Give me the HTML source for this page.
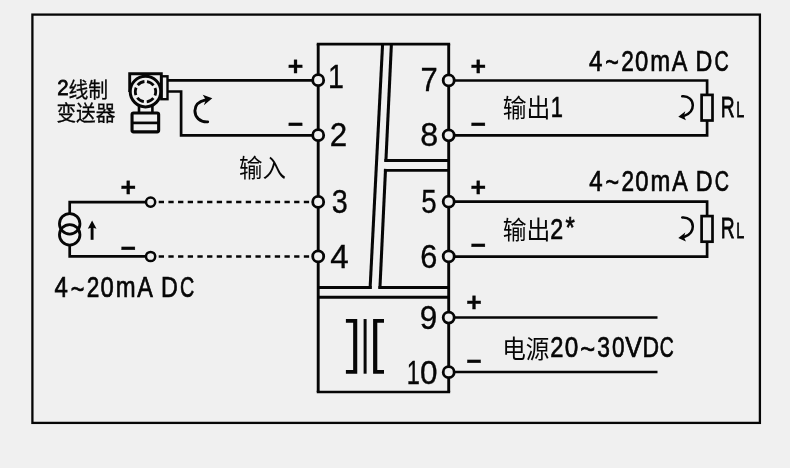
<!DOCTYPE html>
<html lang="zh">
<head>
<meta charset="utf-8">
<title>2线制变送器 接线图</title>
<style>
html,body{margin:0;padding:0;background:#f0f0f0;}
body{width:790px;height:468px;overflow:hidden;font-family:"Liberation Sans",sans-serif;}
svg{display:block;will-change:transform;filter:blur(0.35px);font-family:"Liberation Sans",sans-serif;}
svg line,svg polyline,svg rect,svg circle,svg path{stroke:#060606;fill:none;}
svg circle.h{fill:#f0f0f0;}
svg path.f{stroke:none;fill:#060606;}
svg text{fill:#060606;stroke:#060606;stroke-width:0.7px;}
svg text.b{font-weight:bold;stroke-width:0.3px;}
svg text.m{stroke-width:0.8px;}
svg text.c{font-family:"Liberation Sans","Noto Sans CJK SC",sans-serif;}
</style>
</head>
<body>
<svg width="790" height="468" viewBox="0 0 790 468">
<rect x="0" y="0" width="790" height="468" style="fill:#f0f0f0;stroke:none"/>
<rect x="32.4" y="14.6" width="727.5" height="408.3" stroke-width="2.3"/>
<g id="module">
<line x1="316.75" y1="44.1" x2="450.15" y2="44.1" stroke-width="2.7" />
<line x1="316.75" y1="392.0" x2="450.15" y2="392.0" stroke-width="2.7" />
<line x1="318.2" y1="44.1" x2="318.2" y2="392.0" stroke-width="2.9" />
<line x1="448.7" y1="44.1" x2="448.7" y2="392.0" stroke-width="2.9" />
<line x1="318.2" y1="287.45" x2="371.66036" y2="287.45" stroke-width="2.9" />
<line x1="378.43285" y1="287.45" x2="448.7" y2="287.45" stroke-width="2.9" />
<line x1="318.2" y1="297.2" x2="448.7" y2="297.2" stroke-width="2.9" />
<line x1="384.40185" y1="160.45" x2="448.7" y2="160.45" stroke-width="2.9" />
<line x1="383.93655" y1="170.35" x2="448.7" y2="170.35" stroke-width="2.9" />
<line x1="382.59" y1="44.1" x2="370.06" y2="288.9" stroke-width="3.05" />
<line x1="391.4" y1="44.1" x2="385.86" y2="161.9" stroke-width="3.05" />
<line x1="385.53" y1="168.9" x2="379.89" y2="288.9" stroke-width="3.05" />
<path class="f" d="M345.9 319.05 H357.25 V373.7 H345.9 V370.0 H353.15 V322.75 H345.9 Z"/>
<path class="f" d="M384.0 319.05 H373.1 V373.7 H384.0 V370.0 H377.3 V322.75 H384.0 Z"/>
<line x1="365.1" y1="319.05" x2="365.1" y2="373.7" stroke-width="3.0" />
</g>
<g id="wires">
<line x1="167.6" y1="80.4" x2="318.2" y2="80.4" stroke-width="2.7" />
<polyline points="167.6,91.5 181.1,91.5 181.1,135.4 318.2,135.4" stroke-width="2.7" />
<polyline points="448.7,80.5 707.1,80.5 707.1,94.9" stroke-width="2.7" />
<polyline points="448.7,135.4 707.1,135.4 707.1,120.3" stroke-width="2.7" />
<rect x="701.6" y="94.9" width="10.9" height="25.6" stroke-width="2.7"/>
<polyline points="448.7,201.7 707.1,201.7 707.1,216.10000000000002" stroke-width="2.7" />
<polyline points="448.7,256.6 707.1,256.6 707.1,241.5" stroke-width="2.7" />
<rect x="701.6" y="216.1" width="10.9" height="25.6" stroke-width="2.7"/>
<line x1="448.7" y1="317.5" x2="657.5" y2="317.5" stroke-width="2.7" />
<line x1="448.7" y1="372.0" x2="657.5" y2="372.0" stroke-width="2.7" />
<polyline points="150.6,202.2 69.7,202.2 69.7,213.0" stroke-width="2.7" />
<polyline points="150.6,256.3 69.7,256.3 69.7,245.6" stroke-width="2.7" />
<circle class="o" cx="69.7" cy="223.8" r="10.25" stroke-width="2.8" />
<circle class="o" cx="69.7" cy="234.8" r="10.25" stroke-width="2.8" />
<line x1="158.7" y1="202.0" x2="313" y2="202.0" stroke-width="2.7" stroke-dasharray="5.3 4.375"/>
<line x1="158.7" y1="256.5" x2="313" y2="256.5" stroke-width="2.7" stroke-dasharray="5.3 4.375"/>
</g>
<g id="terminals">
<circle class="h" cx="318.2" cy="80.2" r="5.5" stroke-width="2.8" />
<circle class="h" cx="318.2" cy="135.2" r="5.5" stroke-width="2.8" />
<circle class="h" cx="318.2" cy="201.9" r="5.5" stroke-width="2.8" />
<circle class="h" cx="318.2" cy="256.4" r="5.5" stroke-width="2.8" />
<circle class="h" cx="448.7" cy="80.45" r="5.5" stroke-width="2.8" />
<circle class="h" cx="448.7" cy="135.3" r="5.5" stroke-width="2.8" />
<circle class="h" cx="448.7" cy="201.7" r="5.5" stroke-width="2.8" />
<circle class="h" cx="448.7" cy="256.4" r="5.5" stroke-width="2.8" />
<circle class="h" cx="448.7" cy="317.6" r="5.5" stroke-width="2.8" />
<circle class="h" cx="448.7" cy="372.2" r="5.5" stroke-width="2.8" />
<circle class="h" cx="150.6" cy="202.1" r="4.6" stroke-width="2.5" />
<circle class="h" cx="150.6" cy="256.5" r="4.6" stroke-width="2.5" />
</g>
<g id="arrows">
<line x1="92.1" y1="239.8" x2="92.1" y2="226.5" stroke-width="2.9" />
<path class="f" d="M92.1 220.5 L96.5 228.7 L92.1 227.5 L87.8 228.7 Z"/>
<path d="M207.7 121.9 C199.8 122.3 194.9 117.0 194.9 110.8 C194.9 105.2 198.8 101.3 205.6 99.8" stroke-width="2.9" stroke-linecap="round"/>
<path class="f" d="M212.3 98.3 L202.7 94.8 L205.8 99.7 L203.9 105.2 Z"/>
<g transform="translate(0 0)"><path d="M682.2 96.3 C688.6 95.7 692.8 100 692.8 105.3 C692.8 110.2 689.6 113.8 684.6 115.6" stroke-width="2.5" stroke-linecap="round"/><path class="f" d="M678.3 116.7 L685.3 111.2 L684.0 115.7 L685.9 120.3 Z"/></g>
<g transform="translate(0 121.2)"><path d="M682.2 96.3 C688.6 95.7 692.8 100 692.8 105.3 C692.8 110.2 689.6 113.8 684.6 115.6" stroke-width="2.5" stroke-linecap="round"/><path class="f" d="M678.3 116.7 L685.3 111.2 L684.0 115.7 L685.9 120.3 Z"/></g>
</g>
<g id="transmitter">
<polyline points="129.7,92 129.7,73.8 161.3,73.8 161.3,98" stroke-width="2.9" />
<circle class="o" cx="145.5" cy="91.6" r="15.3" stroke-width="3.0" />
<circle class="o" cx="145.5" cy="91.65" r="10.2" stroke-width="2.8" stroke-dasharray="7.68 3.0" stroke-dashoffset="-1.5" transform="rotate(-90 145.5 91.65)"/>
<rect x="161.3" y="76.3" width="6.2" height="22.9" stroke-width="2.4"/>
<line x1="139.0" y1="106" x2="139.0" y2="113" stroke-width="2.6" />
<line x1="152.4" y1="106" x2="152.4" y2="113" stroke-width="2.6" />
<rect x="132.05" y="113.0" width="26.6" height="18.9" rx="1.6" stroke-width="3.1"/>
<line x1="132.05" y1="122.9" x2="158.65" y2="122.9" stroke-width="2.7" />
</g>
<g id="labels">
<text class="c" x="239.08" y="177.36" font-size="25" textLength="47" lengthAdjust="spacingAndGlyphs" style="stroke:none">输入</text>
<text class="c" x="502.77" y="117.36" font-size="25" textLength="47.7" lengthAdjust="spacingAndGlyphs" style="stroke:none">输出</text>
<text class="c" x="502.67" y="239.13" font-size="25" textLength="47.7" lengthAdjust="spacingAndGlyphs" style="stroke:none">输出</text>
<text class="c" x="502.14" y="358.06" font-size="25" textLength="47.2" lengthAdjust="spacingAndGlyphs" style="stroke:none">电源</text>
<text class="c" x="68.42" y="96.87" font-size="21" textLength="39.6" lengthAdjust="spacingAndGlyphs" style="stroke-width:0.3px">线制</text>
<text class="c" x="56.45" y="120.20" font-size="21" textLength="58.95" lengthAdjust="spacingAndGlyphs" style="stroke-width:0.3px">变送器</text>
<text class="t" font-size="29.2"><tspan x="588.95" y="70.55" textLength="13.35" lengthAdjust="spacingAndGlyphs">4</tspan><tspan x="605.16" y="72.25" textLength="13.59" lengthAdjust="spacingAndGlyphs">~</tspan><tspan x="621.16" y="70.55" textLength="12.57" lengthAdjust="spacingAndGlyphs">2</tspan><tspan x="635.07" y="70.55" textLength="13.27" lengthAdjust="spacingAndGlyphs">0</tspan><tspan x="650.32" y="70.55" textLength="19.85" lengthAdjust="spacingAndGlyphs">m</tspan><tspan x="671.85" y="70.55" textLength="15.59" lengthAdjust="spacingAndGlyphs">A</tspan><tspan x="690.00" y="70.55"> </tspan><tspan x="695.49" y="70.55" textLength="16.83" lengthAdjust="spacingAndGlyphs">D</tspan><tspan x="714.40" y="70.55" textLength="14.25" lengthAdjust="spacingAndGlyphs">C</tspan></text>
<text class="t" font-size="29.2"><tspan x="589.25" y="190.60" textLength="13.35" lengthAdjust="spacingAndGlyphs">4</tspan><tspan x="605.46" y="192.30" textLength="13.59" lengthAdjust="spacingAndGlyphs">~</tspan><tspan x="621.46" y="190.60" textLength="12.57" lengthAdjust="spacingAndGlyphs">2</tspan><tspan x="635.37" y="190.60" textLength="13.27" lengthAdjust="spacingAndGlyphs">0</tspan><tspan x="650.62" y="190.60" textLength="19.85" lengthAdjust="spacingAndGlyphs">m</tspan><tspan x="672.15" y="190.60" textLength="15.59" lengthAdjust="spacingAndGlyphs">A</tspan><tspan x="690.30" y="190.60"> </tspan><tspan x="695.79" y="190.60" textLength="16.83" lengthAdjust="spacingAndGlyphs">D</tspan><tspan x="714.70" y="190.60" textLength="14.25" lengthAdjust="spacingAndGlyphs">C</tspan></text>
<text class="t" font-size="29.2"><tspan x="54.45" y="297.10" textLength="13.35" lengthAdjust="spacingAndGlyphs">4</tspan><tspan x="70.66" y="298.80" textLength="13.59" lengthAdjust="spacingAndGlyphs">~</tspan><tspan x="86.66" y="297.10" textLength="12.57" lengthAdjust="spacingAndGlyphs">2</tspan><tspan x="100.57" y="297.10" textLength="13.27" lengthAdjust="spacingAndGlyphs">0</tspan><tspan x="115.82" y="297.10" textLength="19.85" lengthAdjust="spacingAndGlyphs">m</tspan><tspan x="137.35" y="297.10" textLength="15.59" lengthAdjust="spacingAndGlyphs">A</tspan><tspan x="155.50" y="297.10"> </tspan><tspan x="160.99" y="297.10" textLength="16.83" lengthAdjust="spacingAndGlyphs">D</tspan><tspan x="179.90" y="297.10" textLength="14.25" lengthAdjust="spacingAndGlyphs">C</tspan></text>
<text class="t" font-size="29.2"><tspan x="550.21" y="357.00" textLength="13.18" lengthAdjust="spacingAndGlyphs">2</tspan><tspan x="564.85" y="357.00" textLength="13.50" lengthAdjust="spacingAndGlyphs">0</tspan><tspan x="580.16" y="358.70" textLength="14.89" lengthAdjust="spacingAndGlyphs">~</tspan><tspan x="597.33" y="357.00" textLength="12.67" lengthAdjust="spacingAndGlyphs">3</tspan><tspan x="611.92" y="357.00" textLength="12.57" lengthAdjust="spacingAndGlyphs">0</tspan><tspan x="625.29" y="357.00" textLength="16.72" lengthAdjust="spacingAndGlyphs">V</tspan><tspan x="642.52" y="357.00" textLength="16.58" lengthAdjust="spacingAndGlyphs">D</tspan><tspan x="659.81" y="357.00" textLength="14.03" lengthAdjust="spacingAndGlyphs">C</tspan></text>
<text class="t" font-size="29.2"><tspan x="550.64" y="117.00" textLength="12.13" lengthAdjust="spacingAndGlyphs">1</tspan></text>
<text class="t" font-size="29.2"><tspan x="550.33" y="238.60" textLength="12.94" lengthAdjust="spacingAndGlyphs">2</tspan><tspan x="565.52" y="237.00" textLength="9.26" lengthAdjust="spacingAndGlyphs">*</tspan></text>
<text class="t" font-size="29.5" style="stroke-width:0.8px"><tspan x="720.68" y="117.15" textLength="13.87" lengthAdjust="spacingAndGlyphs">R</tspan></text>
<text class="t" font-size="21.9" style="stroke-width:0.8px"><tspan x="736.28" y="117.15" textLength="7.95" lengthAdjust="spacingAndGlyphs">L</tspan></text>
<text class="t" font-size="29.5" style="stroke-width:0.8px"><tspan x="720.68" y="238.35" textLength="13.87" lengthAdjust="spacingAndGlyphs">R</tspan></text>
<text class="t" font-size="21.9" style="stroke-width:0.8px"><tspan x="736.28" y="238.35" textLength="7.95" lengthAdjust="spacingAndGlyphs">L</tspan></text>
<text class="t m" font-size="22.6"><tspan x="57.27" y="95.40" textLength="11.35" lengthAdjust="spacingAndGlyphs">2</tspan></text>
<text class="t" font-size="32.4" style="stroke-width:0.35px"><tspan x="328.04" y="87.70" textLength="15.93" lengthAdjust="spacingAndGlyphs">1</tspan></text>
<text class="t" font-size="32.4" style="stroke-width:0.35px"><tspan x="329.65" y="146.00" textLength="17.40" lengthAdjust="spacingAndGlyphs">2</tspan></text>
<text class="t" font-size="32.4" style="stroke-width:0.35px"><tspan x="331.83" y="213.00" textLength="16.01" lengthAdjust="spacingAndGlyphs">3</tspan></text>
<text class="t" font-size="32.4" style="stroke-width:0.35px"><tspan x="330.26" y="267.80" textLength="18.48" lengthAdjust="spacingAndGlyphs">4</tspan></text>
<text class="t" font-size="32.4" style="stroke-width:0.35px"><tspan x="420.44" y="91.40" textLength="17.19" lengthAdjust="spacingAndGlyphs">7</tspan></text>
<text class="t" font-size="32.4" style="stroke-width:0.35px"><tspan x="420.22" y="145.50" textLength="17.96" lengthAdjust="spacingAndGlyphs">8</tspan></text>
<text class="t" font-size="32.4" style="stroke-width:0.35px"><tspan x="421.32" y="213.20" textLength="15.42" lengthAdjust="spacingAndGlyphs">5</tspan></text>
<text class="t" font-size="32.4" style="stroke-width:0.35px"><tspan x="420.37" y="267.50" textLength="17.06" lengthAdjust="spacingAndGlyphs">6</tspan></text>
<text class="t" font-size="32.4" style="stroke-width:0.35px"><tspan x="419.85" y="328.70" textLength="17.52" lengthAdjust="spacingAndGlyphs">9</tspan></text>
<text class="t" font-size="32.4" style="stroke-width:0.35px"><tspan x="406.63" y="383.50" textLength="13.10" lengthAdjust="spacingAndGlyphs">1</tspan><tspan x="420.09" y="383.50" textLength="17.51" lengthAdjust="spacingAndGlyphs">0</tspan></text>
</g>
<g id="signs">
<text class="b" text-anchor="middle" x="295.40" y="75.34" font-size="26.6">+</text>
<text class="b" text-anchor="middle" x="295.40" y="132.84" font-size="26.6">−</text>
<text class="b" text-anchor="middle" x="478.20" y="75.24" font-size="26.6">+</text>
<text class="b" text-anchor="middle" x="478.20" y="133.24" font-size="26.6">−</text>
<text class="b" text-anchor="middle" x="478.30" y="195.84" font-size="26.6">+</text>
<text class="b" text-anchor="middle" x="478.30" y="253.64" font-size="26.6">−</text>
<text class="b" text-anchor="middle" x="473.90" y="311.34" font-size="26.6">+</text>
<text class="b" text-anchor="middle" x="473.90" y="370.34" font-size="26.6">−</text>
<text class="b" text-anchor="middle" x="128.30" y="196.04" font-size="26.6">+</text>
<text class="b" text-anchor="middle" x="128.30" y="257.04" font-size="26.6">−</text>
</g>
</svg>
</body>
</html>
